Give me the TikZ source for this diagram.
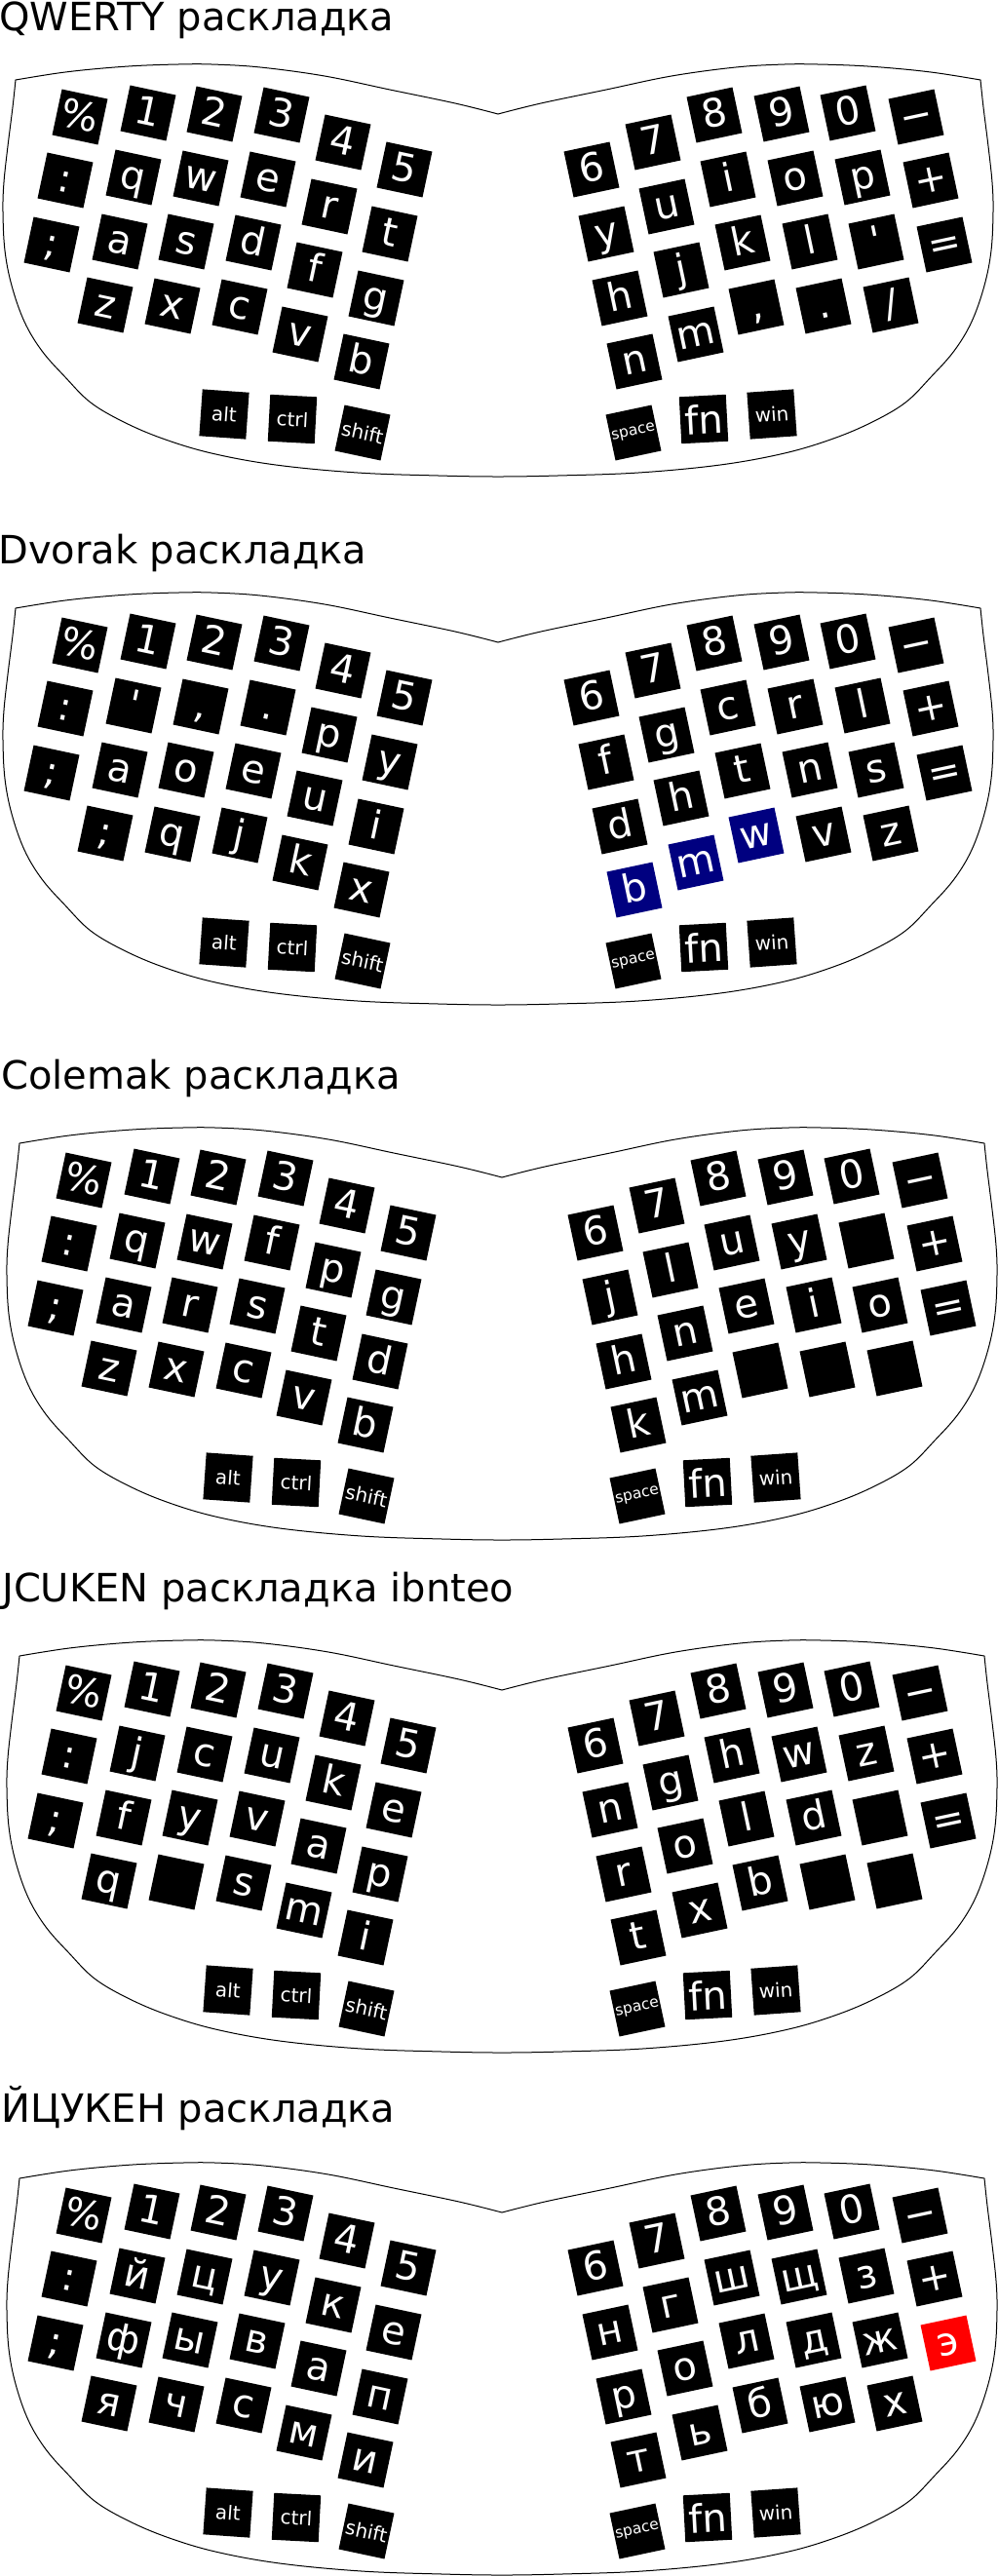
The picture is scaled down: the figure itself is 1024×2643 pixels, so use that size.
\documentclass[tikz,border=0pt]{standalone}
\usepackage{fontspec}
\newfontfamily\dv{DejaVu Sans}
\definecolor{navyk}{RGB}{0,0,128}
\definecolor{redk}{RGB}{255,0,0}
\tikzset{
  keybase/.style={fill=black, text=white, minimum size=48pt, inner sep=0pt},
  key/.style={keybase, font=\dv\fontsize{40}{40}\selectfont, text height=25pt, text depth=0pt},
  smallkey/.style={keybase, font=\dv\fontsize{20}{20}\selectfont},
  spacekey/.style={keybase, font=\dv\fontsize{15.5}{16}\selectfont},
  fnkey/.style={keybase, font=\dv\fontsize{40}{40}\selectfont},
  outline/.style={draw=black, line width=1pt},
  title/.style={anchor=base west, inner sep=0pt, font=\dv\fontsize{40}{48}\selectfont}
}
\newcommand\KL[3][]{\node[key,rotate=-12,#1] (k#2) at (p#2) {#3};}
\newcommand\KR[3][]{\node[key,rotate=12,#1] (k#2) at (p#2) {#3};}
\newcommand\common[1]{%
  \draw[outline]
    plot[smooth,tension=0.6] coordinates {(511,117) (467,106) (400,92) (333,78) (267,69) (217,66) (183,66) (140,67.5) (100,70.5) (67,74) (40,78) (16,82)}
    -- plot[smooth,tension=0.6] coordinates {(16,82) (13,110) (8,150) (4,187) (3,217) (5,257) (12,293) (25,330) (43,360) (67,387) (93,413) (127,433) (167,450) (217,465) (283,477) (367,485) (450,488) (511,489) (572,488) (655,485) (739,477) (805,465) (855,450) (895,433) (929,413) (955,387) (979,360) (997,330) (1010,293) (1017,257) (1019,217) (1018,187) (1014,150) (1009,110) (1006,82)}
    -- plot[smooth,tension=0.6] coordinates {(1006,82) (982,78) (955,74) (922,70.5) (882,67.5) (839,66) (805,66) (755,69) (689,78) (622,92) (555,106) (511,117)}
    -- cycle;
  \foreach \pn/\px/\py in {00/82/120,01/152/116,02/220/117,03/289/118,04/352/146,05/415/174,
      10/67/185,11/137/182,12/206/183,13/275/184,14/338/212,15/400/240,
      20/53/251,21/123/248,22/191/248,23/260/249,24/323/277,25/386/306,
      31/108/313,32/177/314,33/246/315,34/308/343,35/371/371}{
    \coordinate (p#1L\pn) at (\px,\py);
    \coordinate (p#1R\pn) at ({1022-\px},\py);
  }
  \KL{#1L00}{\%}\KL{#1L01}{1}\KL{#1L02}{2}\KL{#1L03}{3}\KL{#1L04}{4}\KL{#1L05}{5}
  \KR{#1R00}{−}\KR{#1R01}{0}\KR{#1R02}{9}\KR{#1R03}{8}\KR{#1R04}{7}\KR{#1R05}{6}
  \node[smallkey,rotate=-4] (k#1alt) at (230,425) {alt};
  \node[smallkey,rotate=-3] (k#1ctrl) at (300,430) {ctrl};
  \node[smallkey,rotate=-12] (k#1shift) at (372,444) {shift};
  \node[spacekey,rotate=12] (k#1space) at (650,444) {space};
  \node[fnkey,rotate=3] (k#1fn) at (722,430) {fn};
  \node[smallkey,rotate=4] (k#1win) at (792,425) {win};
}
\begin{document}
\begin{tikzpicture}[x=1pt,y=-1pt]
\useasboundingbox (0,0) rectangle (1024,2643);

% ---------- QWERTY ----------
\node[title] (t1) at (-1,31) {QWERTY раскладка};
\begin{scope}
  \common{a}
  \KL{aL10}{:}\KL{aL11}{q}\KL{aL12}{w}\KL{aL13}{e}\KL{aL14}{r}\KL{aL15}{t}
  \KL{aL20}{;}\KL{aL21}{a}\KL{aL22}{s}\KL{aL23}{d}\KL{aL24}{f}\KL{aL25}{g}
  \KL{aL31}{z}\KL{aL32}{x}\KL{aL33}{c}\KL{aL34}{v}\KL{aL35}{b}
  \KR{aR10}{+}\KR{aR11}{p}\KR{aR12}{o}\KR{aR13}{i}\KR{aR14}{u}\KR{aR15}{y}
  \KR{aR20}{=}\KR{aR21}{'}\KR{aR22}{l}\KR{aR23}{k}\KR{aR24}{j}\KR{aR25}{h}
  \KR{aR31}{/}\KR{aR32}{.}\KR{aR33}{,}\KR{aR34}{m}\KR{aR35}{n}
\end{scope}

% ---------- Dvorak ----------
\node[title] (t2) at (-2,578) {Dvorak раскладка};
\begin{scope}[shift={(0,542)}]
  \common{b}
  \KL{bL10}{:}\KL{bL11}{'}\KL{bL12}{,}\KL{bL13}{.}\KL{bL14}{p}\KL{bL15}{y}
  \KL{bL20}{;}\KL{bL21}{a}\KL{bL22}{o}\KL{bL23}{e}\KL{bL24}{u}\KL{bL25}{i}
  \KL{bL31}{;}\KL{bL32}{q}\KL{bL33}{j}\KL{bL34}{k}\KL{bL35}{x}
  \KR{bR10}{+}\KR{bR11}{l}\KR{bR12}{r}\KR{bR13}{c}\KR{bR14}{g}\KR{bR15}{f}
  \KR{bR20}{=}\KR{bR21}{s}\KR{bR22}{n}\KR{bR23}{t}\KR{bR24}{h}\KR{bR25}{d}
  \KR{bR31}{z}\KR{bR32}{v}\KR[fill=navyk]{bR33}{w}\KR[fill=navyk]{bR34}{m}\KR[fill=navyk]{bR35}{b}
\end{scope}

% ---------- Colemak ----------
\node[title] (t3) at (1,1117) {Colemak раскладка};
\begin{scope}[shift={(4,1091)}]
  \common{c}
  \KL{cL10}{:}\KL{cL11}{q}\KL{cL12}{w}\KL{cL13}{f}\KL{cL14}{p}\KL{cL15}{g}
  \KL{cL20}{;}\KL{cL21}{a}\KL{cL22}{r}\KL{cL23}{s}\KL{cL24}{t}\KL{cL25}{d}
  \KL{cL31}{z}\KL{cL32}{x}\KL{cL33}{c}\KL{cL34}{v}\KL{cL35}{b}
  \KR{cR10}{+}\KR{cR11}{}\KR{cR12}{y}\KR{cR13}{u}\KR{cR14}{l}\KR{cR15}{j}
  \KR{cR20}{=}\KR{cR21}{o}\KR{cR22}{i}\KR{cR23}{e}\KR{cR24}{n}\KR{cR25}{h}
  \KR{cR31}{}\KR{cR32}{}\KR{cR33}{}\KR{cR34}{m}\KR{cR35}{k}
\end{scope}

% ---------- JCUKEN ibnteo ----------
\node[title] (t4) at (2,1643) {JCUKEN раскладка ibnteo};
\begin{scope}[shift={(4,1617)}]
  \common{d}
  \KL{dL10}{:}\KL{dL11}{j}\KL{dL12}{c}\KL{dL13}{u}\KL{dL14}{k}\KL{dL15}{e}
  \KL{dL20}{;}\KL{dL21}{f}\KL{dL22}{y}\KL{dL23}{v}\KL{dL24}{a}\KL{dL25}{p}
  \KL{dL31}{q}\KL{dL32}{}\KL{dL33}{s}\KL{dL34}{m}\KL{dL35}{i}
  \KR{dR10}{+}\KR{dR11}{z}\KR{dR12}{w}\KR{dR13}{h}\KR{dR14}{g}\KR{dR15}{n}
  \KR{dR20}{=}\KR{dR21}{}\KR{dR22}{d}\KR{dR23}{l}\KR{dR24}{o}\KR{dR25}{r}
  \KR{dR31}{}\KR{dR32}{}\KR{dR33}{b}\KR{dR34}{x}\KR{dR35}{t}
\end{scope}

% ---------- ЙЦУКЕН ----------
\node[title] (t5) at (1,2177) {ЙЦУКЕН раскладка};
\begin{scope}[shift={(4,2153)}]
  \common{e}
  \KL{eL10}{:}\KL{eL11}{й}\KL{eL12}{ц}\KL{eL13}{у}\KL{eL14}{к}\KL{eL15}{е}
  \KL{eL20}{;}\KL{eL21}{ф}\KL{eL22}{ы}\KL{eL23}{в}\KL{eL24}{а}\KL{eL25}{п}
  \KL{eL31}{я}\KL{eL32}{ч}\KL{eL33}{с}\KL{eL34}{м}\KL{eL35}{и}
  \KR{eR10}{+}\KR{eR11}{з}\KR{eR12}{щ}\KR{eR13}{ш}\KR{eR14}{г}\KR{eR15}{н}
  \KR[fill=redk]{eR20}{э}\KR{eR21}{ж}\KR{eR22}{д}\KR{eR23}{л}\KR{eR24}{о}\KR{eR25}{р}
  \KR{eR31}{х}\KR{eR32}{ю}\KR{eR33}{б}\KR{eR34}{ь}\KR{eR35}{т}
\end{scope}
\end{tikzpicture}
\end{document}
